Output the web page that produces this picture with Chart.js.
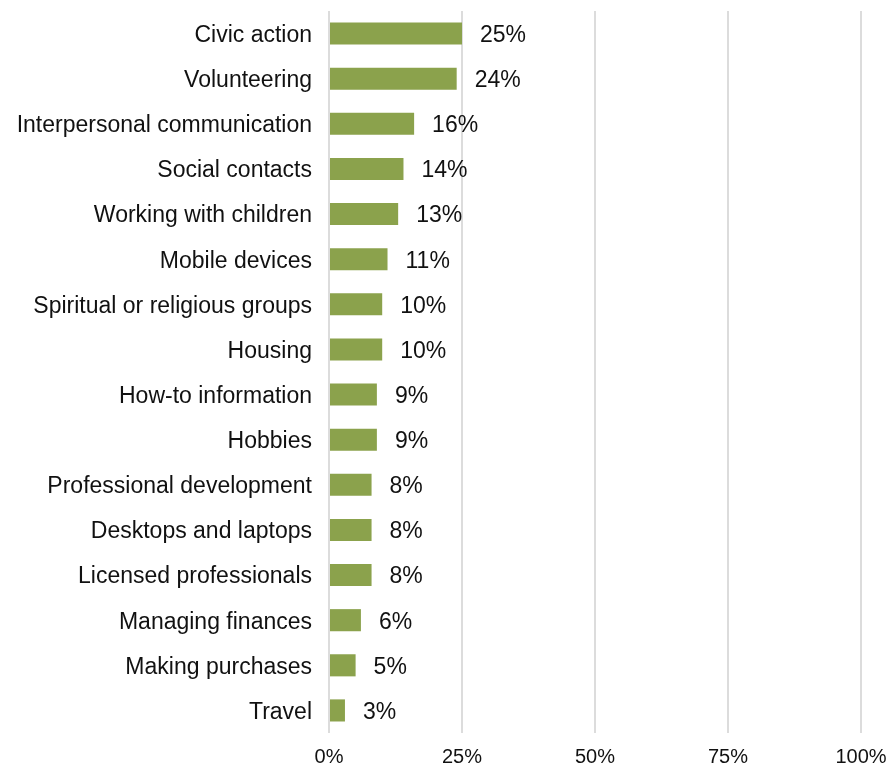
<!DOCTYPE html>
<html>
<head>
<meta charset="utf-8">
<script src="https://cdn.jsdelivr.net/npm/chart.js@4"></script>
<style>
html,body{margin:0;padding:0;background:#fff;}
canvas{display:block;}
</style>
</head>
<body>
<canvas id="c" width="893" height="767"></canvas>
<script>
const categories = [
  "Civic action","Volunteering","Interpersonal communication","Social contacts",
  "Working with children","Mobile devices","Spiritual or religious groups","Housing",
  "How-to information","Hobbies","Professional development","Desktops and laptops",
  "Licensed professionals","Managing finances","Making purchases","Travel"
];
const values = [25,24,16,14,13,11,10,10,9,9,8,8,8,6,5,3];
const tickValues = [0,25,50,75,100];

const FONT = "'Liberation Sans', Arial, Helvetica, sans-serif";

const valueLabels = {
  id: 'valueLabels',
  afterDatasetsDraw(chart) {
    const ctx = chart.ctx;
    const meta = chart.getDatasetMeta(0);
    ctx.save();
    ctx.font = "23px " + FONT;
    ctx.fillStyle = "#111";
    ctx.textAlign = "left";
    ctx.textBaseline = "middle";
    meta.data.forEach((bar, i) => {
      ctx.fillText(values[i] + "%", bar.x + 18, bar.y + 2);
    });
    ctx.restore();
  }
};

new Chart(document.getElementById('c'), {
  type: 'bar',
  data: {
    labels: categories,
    datasets: [{
      data: values,
      backgroundColor: '#8ba24c',
      borderWidth: 0,
      categoryPercentage: 1,
      barPercentage: 0.49
    }]
  },
  options: {
    indexAxis: 'y',
    responsive: false,
    animation: false,
    layout: { padding: { top: 11, right: 32, left: 0, bottom: 0 } },
    plugins: { legend: { display: false }, tooltip: { enabled: false } },
    scales: {
      x: {
        min: 0, max: 100,
        afterBuildTicks(scale) { scale.ticks = tickValues.map(v => ({ value: v })); },
        afterFit(scale) { scale.height = 34; scale.paddingLeft = 0; scale.paddingRight = 0; },
        grid: { color: '#dcdcdc', lineWidth: 2, drawTicks: false },
        border: { display: false },
        ticks: {
          padding: 12,
          color: '#111',
          font: { family: FONT, size: 20 },
          callback: v => v + '%'
        }
      },
      y: {
        afterFit(scale) { scale.width = 329; scale.paddingTop = 0; scale.paddingBottom = 0; },
        grid: { display: false },
        border: { display: false },
        ticks: {
          padding: 9,
          labelOffset: 2,
          color: '#111',
          autoSkip: false,
          font: { family: FONT, size: 23 }
        }
      }
    }
  },
  plugins: [valueLabels]
});
</script>
</body>
</html>
